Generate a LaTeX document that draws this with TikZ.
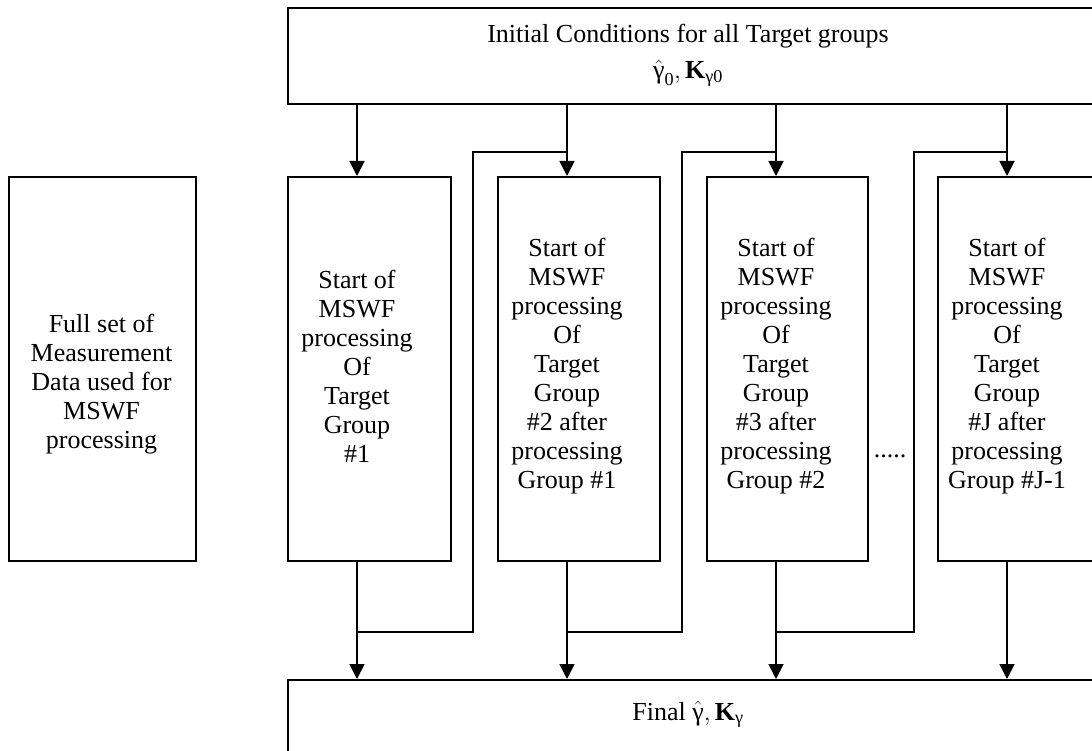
\documentclass[tikz,border=0pt]{standalone}
\usepackage{amsmath}
\usepackage{fontspec}
\setmainfont{Liberation Serif}
\usetikzlibrary{arrows.meta}
\begin{document}
\begin{tikzpicture}[x=1pt,y=1pt,
  box/.style={draw, line width=1.8pt, inner sep=0pt, anchor=north west},
  wire/.style={line width=1.8pt},
  arr/.style={wire, -{Triangle[length=15pt,width=15pt]}},
  lbl/.style={inner sep=0pt, align=center, font=\fontsize{26}{29}\selectfont}]
\useasboundingbox (0,0) rectangle (1092,750);
\clip (0,0) rectangle (1092,750);

% boxes
\node[box, minimum width=813pt, minimum height=96pt] (top) at (287,743) {};
\node[box, minimum width=813pt, minimum height=100pt] (bot) at (287,71) {};
\node[box, minimum width=187pt, minimum height=384pt] (data) at (8,574) {};
\node[box, minimum width=163pt, minimum height=384pt] (b1) at (287,574) {};
\node[box, minimum width=162pt, minimum height=384pt] (b2) at (497,574) {};
\node[box, minimum width=161pt, minimum height=384pt] (b3) at (706,574) {};
\node[box, minimum width=170pt, minimum height=384pt] (b4) at (937,574) {};

% texts
\node[lbl, anchor=base] (toptxt) at (688,707) {Initial Conditions for all Target groups};
\node[lbl, anchor=base] (topmath) at (688,671) {\(\hat{\text{γ}}_{\text{0}},\text{\textbf{K}}_{\text{γ0}}\)};
\node[lbl, anchor=base] (bottxt) at (688,30) {Final \(\hat{\text{γ}},\text{\textbf{K}}_{\text{γ}}\)};
\node[lbl] (datatxt) at (101.5,366) {Full set of\\Measurement\\Data used for\\MSWF\\processing};
\node[lbl] (t1) at (357,384) {Start of\\MSWF\\processing\\Of\\Target\\Group\\\#1};
\node[lbl] (t2) at (567,384) {Start of\\MSWF\\processing\\Of\\Target\\Group\\\#2 after\\processing\\Group \#1};
\node[lbl] (t3) at (776,384) {Start of\\MSWF\\processing\\Of\\Target\\Group\\\#3 after\\processing\\Group \#2};
\node[lbl] (t4) at (1007,384) {Start of\\MSWF\\processing\\Of\\Target\\Group\\\#J after\\processing\\Group \#J-1};
\node[lbl, anchor=base] (dots) at (890,292) {.....};

% connector columns
\coordinate (x1) at (357,0);
\coordinate (x2) at (567,0);
\coordinate (x3) at (776,0);
\coordinate (x4) at (1007,0);

% feedback loops: low junction, corner, high junction
\coordinate (lo1) at (357,118);
\coordinate (lo2) at (567,118);
\coordinate (lo3) at (776,118);
\coordinate (k1) at (473,598);
\coordinate (k2) at (682,598);
\coordinate (k3) at (914,598);
\coordinate (hi2) at (567,598);
\coordinate (hi3) at (776,598);
\coordinate (hi4) at (1007,598);

\foreach \i in {1,2,3,4}{
  \draw[arr] (top.south -| x\i) -- (b\i.north -| x\i);
  \draw[arr] (b\i.south -| x\i) -- (bot.north -| x\i);
}
\draw[wire] (lo1) -| (k1) -- (hi2);
\draw[wire] (lo2) -| (k2) -- (hi3);
\draw[wire] (lo3) -| (k3) -- (hi4);
\end{tikzpicture}
\end{document}
